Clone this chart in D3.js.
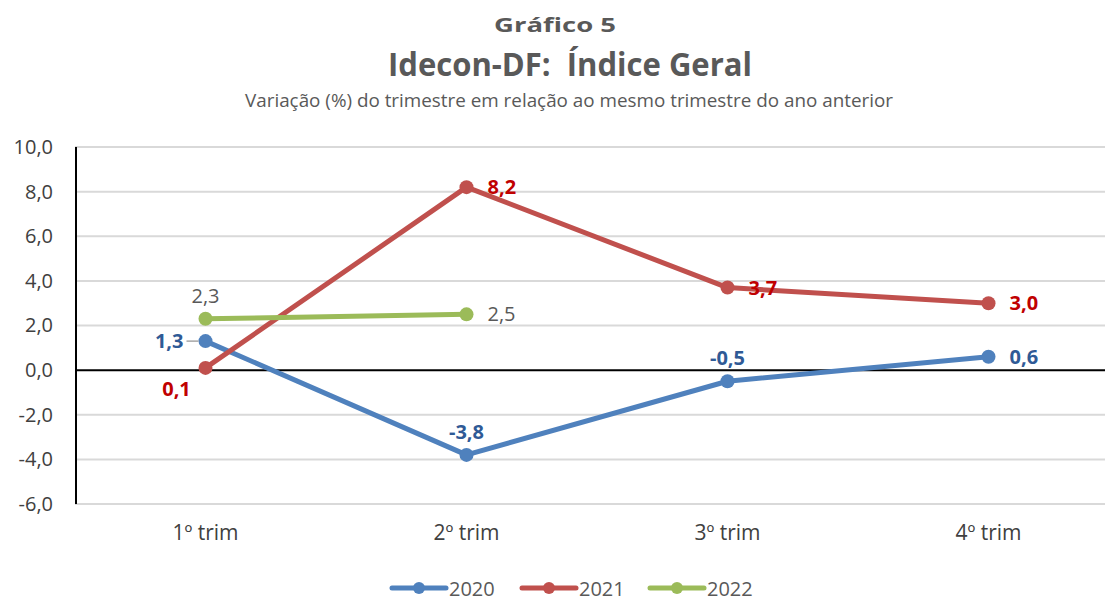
<!DOCTYPE html>
<html>
<head>
<meta charset="utf-8">
<script src="https://cdn.jsdelivr.net/npm/d3@7"></script>
<style>
  body { margin: 0; background: #fff; }
  text { font-family: "Open Sans", "Noto Sans", sans-serif; white-space: pre; }
</style>
</head>
<body>
<div id="chart"></div>
<script>
// data
const categories = ['1º trim', '2º trim', '3º trim', '4º trim'];
const years = ['2020', '2021', '2022'];
const values2020 = [1.3, -3.8, -0.5, 0.6];
const values2021 = [0.1, 8.2, 3.7, 3.0];
const values2022 = [2.3, 2.5];
const yTicks = [-6, -4, -2, 0, 2, 4, 6, 8, 10];

const config = {
    "width": 1105,
    "height": 601,
    "left": 75,
    "right": 1119,
    "top": 147,
    "bottom": 504
};

const locale = d3.formatLocale({"decimal": ",", "thousands": ".", "grouping": [3], "currency": ["R$", ""], "minus": "-"});
const fmt = locale.format('.1f');

const series = [
    {"name": years[0], "values": values2020, "color": "#4f81bd", "label": "#2f5a96", "bold": true,
     "pos": ['left', 'top', 'top', 'right']},
    {"name": years[1], "values": values2021, "color": "#c0504d", "label": "#c00000", "bold": true,
     "pos": ['belowleft', 'right', 'right', 'right']},
    {"name": years[2], "values": values2022, "color": "#9bbb59", "label": "#595959", "bold": false,
     "pos": ['top', 'right']}
];

const svg = d3.select('#chart').append('svg')
    .attr('width', config.width)
    .attr('height', config.height);

// titles
svg.append('text')
    .attr('x', 555).attr('y', 32)
    .attr('text-anchor', 'middle')
    .attr('font-size', 20).attr('font-weight', 'bold').attr('fill', '#595959')
    .attr('textLength', 122).attr('lengthAdjust', 'spacingAndGlyphs')
    .text('Gráfico 5');

svg.append('text')
    .attr('x', 570).attr('y', 76)
    .attr('text-anchor', 'middle')
    .attr('font-size', 32).attr('font-weight', 'bold').attr('fill', '#595959')
    .attr('textLength', 364).attr('lengthAdjust', 'spacingAndGlyphs')
    .text('Idecon-DF:  Índice Geral');

svg.append('text')
    .attr('x', 569).attr('y', 107)
    .attr('text-anchor', 'middle')
    .attr('font-size', 18).attr('fill', '#595959')
    .attr('textLength', 648).attr('lengthAdjust', 'spacingAndGlyphs')
    .text('Variação (%) do trimestre em relação ao mesmo trimestre do ano anterior');

// scales
const x = d3.scaleBand()
    .domain(categories)
    .range([config.left, config.right])
    .padding(0);

const y = d3.scaleLinear()
    .domain([-6, 10])
    .range([config.bottom, config.top]);

const cx = c => x(c) + x.bandwidth() / 2;

// gridlines
svg.append('g').selectAll('line')
    .data(yTicks.filter(d => d !== 0))
    .enter().append('line')
    .attr('x1', config.left).attr('x2', config.right)
    .attr('y1', d => y(d)).attr('y2', d => y(d))
    .attr('stroke', '#d9d9d9').attr('stroke-width', 2);

// y axis labels
const yAxis = d3.axisLeft(y).tickValues(yTicks).tickFormat(fmt).tickSize(0).tickPadding(22);
const gy = svg.append('g')
    .attr('transform', `translate(${config.left},0)`)
    .call(yAxis);
gy.select('.domain').remove();
gy.selectAll('text')
    .attr('font-size', 20).attr('fill', '#404040')
    .attr('font-family', '"Open Sans", sans-serif');

// axis lines
svg.append('line')
    .attr('x1', config.left + 1).attr('x2', config.left + 1)
    .attr('y1', config.top).attr('y2', config.bottom)
    .attr('stroke', '#000').attr('stroke-width', 2);
svg.append('line')
    .attr('x1', config.left).attr('x2', config.right)
    .attr('y1', y(0)).attr('y2', y(0))
    .attr('stroke', '#000').attr('stroke-width', 2);

// x axis labels
const xAxis = d3.axisBottom(x).tickSize(0).tickPadding(0);
const gx = svg.append('g')
    .attr('transform', `translate(0,${config.bottom + 21})`)
    .call(xAxis);
gx.select('.domain').remove();
gx.selectAll('text')
    .attr('font-size', 21).attr('fill', '#404040')
    .attr('font-family', '"Open Sans", sans-serif');

// lines
const line = d3.line()
    .x((d, i) => cx(categories[i]))
    .y(d => y(d));

series.forEach(s => {
    svg.append('path')
        .datum(s.values)
        .attr('fill', 'none')
        .attr('stroke', s.color)
        .attr('stroke-width', 5)
        .attr('stroke-linejoin', 'round')
        .attr('d', line);

    svg.append('g').selectAll('circle')
        .data(s.values)
        .enter().append('circle')
        .attr('cx', (d, i) => cx(categories[i]))
        .attr('cy', d => y(d))
        .attr('r', 7)
        .attr('fill', s.color);
});

// data labels
series.forEach(s => {
    s.values.forEach((v, i) => {
        const px = cx(categories[i]), py = y(v);
        let tx = px, ty = py, anchor = 'middle';
        const p = s.pos[i];
        if (p === 'top') { ty = py - 16; }
        else if (p === 'right') { tx = px + 21; ty = py + 7; anchor = 'start'; }
        else if (p === 'left') { tx = px - 22; ty = py + 7; anchor = 'end'; }
        else if (p === 'belowleft') { tx = px - 29; ty = py + 28; }
        svg.append('text')
            .attr('x', tx).attr('y', ty)
            .attr('text-anchor', anchor)
            .attr('font-size', 20)
            .attr('font-weight', s.bold ? 'bold' : 'normal')
            .attr('fill', s.label)
            .text(fmt(v));
    });
});

// leader line for 1,3
svg.append('line')
    .attr('x1', cx(categories[0]) - 19).attr('x2', cx(categories[0]) - 7)
    .attr('y1', y(values2020[0])).attr('y2', y(values2020[0]))
    .attr('stroke', '#a6a6a6').attr('stroke-width', 1.5);

// legend
const legendX = [390, 520, 648];
const legend = svg.append('g').selectAll('g')
    .data(series)
    .enter().append('g')
    .attr('transform', (d, i) => `translate(${legendX[i]},588)`);
legend.append('line')
    .attr('x1', 2).attr('x2', 56)
    .attr('stroke', d => d.color).attr('stroke-width', 5)
    .attr('stroke-linecap', 'round');
legend.append('circle')
    .attr('cx', 29).attr('r', 6)
    .attr('fill', d => d.color);
legend.append('text')
    .attr('x', 59).attr('y', 0)
    .attr('dominant-baseline', 'central')
    .attr('font-size', 20).attr('fill', '#595959')
    .text(d => d.name);
</script>
</body>
</html>
